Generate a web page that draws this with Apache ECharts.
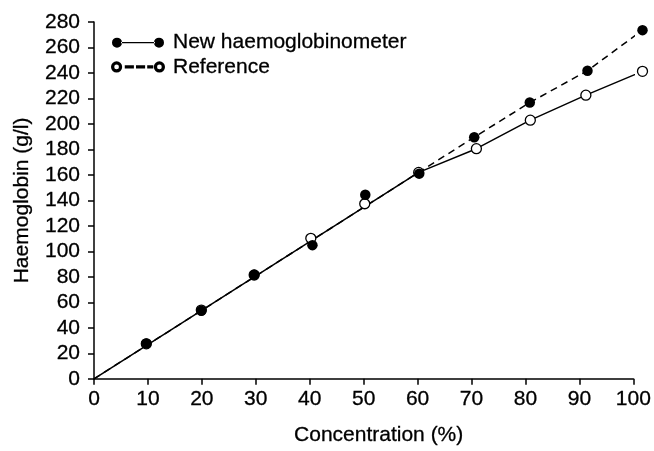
<!DOCTYPE html>
<html>
<head>
<meta charset="utf-8">
<script src="https://cdn.jsdelivr.net/npm/echarts@6/dist/echarts.min.js"></script>
<style>
  html, body { margin: 0; padding: 0; background: #fff; }
  #chart { width: 654px; height: 451px; }
</style>
</head>
<body>
<div id="chart"></div>
<script>
// points, [concentration %, haemoglobin g/l]
var newPoints = [[9.7, 27.7], [19.9, 53.5], [29.7, 81.6], [40.5, 104.9], [50.3, 144.4],
  [60.3, 161], [70.5, 189.6], [80.8, 216.8], [91.5, 241.8], [101.7, 273.6]];
var refPoints = [[9.7, 27.5], [19.9, 54], [29.7, 81.5], [40.2, 110.3], [50.2, 137.4],
  [60.2, 162], [70.9, 180.6], [80.9, 203], [91.2, 222.6], [101.7, 241.3]];
// the two drawn lines (shared up to 60 %, then they split)
var solidLine = [[0, 0], [60.2, 162], [70.9, 180.6], [80.9, 203], [91.2, 222.6], [101.7, 241.3]];
var dashedLine = [[0, 0], [60.2, 162], [70.5, 189.6], [80.8, 216.8], [91.5, 241.8], [101.7, 273.6]];

var xTitle = 'Concentration (%)';
var yTitle = 'Haemoglobin (g/l)';
var names = ['New haemoglobinometer', 'Reference'];

var font = 'Liberation Sans, Arial, sans-serif';
var black = '#000';
var fontSize = 21;

// legend icons: dot-line-dot and ring-dashes-ring
var iconFilled = 'path://M0,5A5,5 0 1,0 10,5A5,5 0 1,0 0,5Z M42,5A5,5 0 1,0 52,5A5,5 0 1,0 42,5Z M9,4.3L43,4.3L43,5.7L9,5.7Z';
var iconOpen = 'path://M0.5,5A4.5,4.5 0 1,0 9.5,5A4.5,4.5 0 1,0 0.5,5Z M1.7,5A3.3,3.3 0 1,1 8.3,5A3.3,3.3 0 1,1 1.7,5Z' +
  ' M42.5,5A4.5,4.5 0 1,0 51.5,5A4.5,4.5 0 1,0 42.5,5Z M43.7,5A3.3,3.3 0 1,1 50.3,5A3.3,3.3 0 1,1 43.7,5Z' +
  ' M14,4.4L21,4.4L21,5.6L14,5.6Z M25,4.4L32,4.4L32,5.6L25,5.6Z M36,4.4L40,4.4L40,5.6L36,5.6Z';

var chart = echarts.init(document.getElementById('chart'), null, { renderer: 'canvas' });

// slightly heavier text, like the printed figure
var textLook = { color: black, fontSize: fontSize, fontFamily: font, textBorderColor: black, textBorderWidth: 0.3 };

var axisCommon = {
  axisLine: { show: true, onZero: false, lineStyle: { color: black, width: 1.5 } },
  axisTick: { show: true, length: 6, lineStyle: { color: black, width: 1.5 } },
  splitLine: { show: false }
};

chart.setOption({
  animation: false,
  backgroundColor: '#fff',
  grid: { left: 94, right: 18, top: 22, bottom: 68, containLabel: false },
  legend: {
    orient: 'vertical',
    left: 106,
    top: 27,
    itemWidth: 52,
    itemHeight: 10,
    itemGap: 3,
    textStyle: Object.assign({}, textLook, { padding: [0, 0, 0, 4] }),
    data: [
      { name: names[0], icon: iconFilled, itemStyle: { color: black } },
      { name: names[1], icon: iconOpen, itemStyle: { color: black } }
    ]
  },
  xAxis: Object.assign({}, axisCommon, {
    type: 'value',
    min: 0,
    max: 100,
    interval: 10,
    name: xTitle,
    nameLocation: 'middle',
    nameGap: 46,
    nameTextStyle: Object.assign({}, textLook, { padding: [0, 0, 0, 30] }),
    axisLabel: Object.assign({}, textLook, { margin: 10 })
  }),
  yAxis: Object.assign({}, axisCommon, {
    type: 'value',
    min: 0,
    max: 280,
    interval: 20,
    name: yTitle,
    nameLocation: 'middle',
    nameGap: 61,
    nameTextStyle: textLook,
    axisLabel: Object.assign({}, textLook, { margin: 14 })
  }),
  series: [
    {
      name: 'fit-solid', type: 'line', data: solidLine, symbol: 'none', clip: false,
      lineStyle: { color: black, width: 1.5, type: 'solid' }, z: 2
    },
    {
      name: 'fit-dashed', type: 'line', data: dashedLine, symbol: 'none', clip: false,
      lineStyle: { color: black, width: 1.5, type: [7, 5] }, z: 2
    },
    {
      name: names[1], type: 'scatter', data: refPoints, symbol: 'circle', symbolSize: 10, clip: false,
      itemStyle: { color: '#fff', borderColor: black, borderWidth: 1.3, opacity: 1 }, z: 3
    },
    {
      name: names[0], type: 'scatter', data: newPoints, symbol: 'circle', symbolSize: 10.5, clip: false,
      itemStyle: { color: black, opacity: 1 }, z: 4
    }
  ]
});
</script>
</body>
</html>
